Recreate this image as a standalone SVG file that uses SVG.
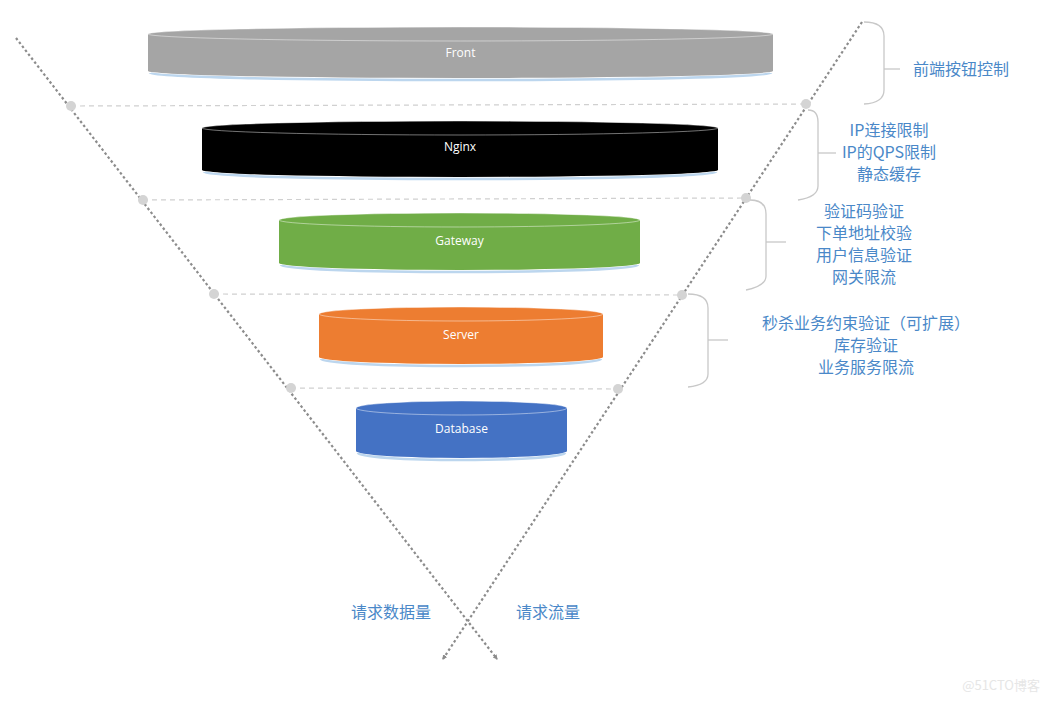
<svg xmlns="http://www.w3.org/2000/svg" width="1048" height="701" viewBox="0 0 1048 701">
<defs>
<marker id="arr" viewBox="0 0 10 10" refX="8" refY="5" markerWidth="5" markerHeight="5" orient="auto" markerUnits="userSpaceOnUse">
<path d="M0,0 L10,5 L0,10 z" fill="#8c8c8c"/>
</marker>
<style>
.diag{stroke:#8c8c8c;stroke-width:2.2;stroke-dasharray:2.5 2.5;fill:none}
.hdash{stroke:#d0d0d0;stroke-width:1.2;stroke-dasharray:5 4;fill:none}
.dot{fill:#d4d4d4}
.brace{stroke:#c8c8c8;stroke-width:1.3;fill:none}
.lbl{font-family:"Noto Sans CJK SC","Microsoft YaHei",sans-serif;font-size:16px;fill:#4a88c8;text-anchor:middle}
.ctext{font-family:"Open Sans","Liberation Sans",sans-serif;font-size:12px;fill:#ffffff;text-anchor:middle}
.top{fill:none;stroke:#ffffff;stroke-opacity:0.45;stroke-width:1}
.shadow{fill:none;stroke:#bcd6ee;stroke-width:2.5}
</style>
</defs>
<rect width="1048" height="701" fill="#ffffff"/>
<g id="guides">
<line class="hdash" x1="71" y1="106" x2="806" y2="104"/>
<line class="hdash" x1="143" y1="200" x2="746" y2="198"/>
<line class="hdash" x1="214" y1="294" x2="682" y2="295"/>
<line class="hdash" x1="291" y1="388" x2="618" y2="389"/>
</g>
<g id="front">
<path class="shadow" d="M150,73 A310.5,7 0 0 0 771,73"/>
<path d="M148,34 A312.5,7 0 0 1 773,34 V71 A312.5,7 0 0 1 148,71 Z" fill="#a5a5a5"/>
<ellipse class="top" cx="460.5" cy="34" rx="312.5" ry="7"/>
<text class="ctext" x="460.5" y="57">Front</text>
</g>
<g id="nginx">
<path class="shadow" d="M204,172 A256,7 0 0 0 716,172"/>
<path d="M202,128 A258,7 0 0 1 718,128 V170 A258,7 0 0 1 202,170 Z" fill="#000000"/>
<ellipse class="top" cx="460" cy="128" rx="258" ry="7"/>
<text class="ctext" x="460" y="151">Nginx</text>
</g>
<g id="gateway">
<path class="shadow" d="M281,265 A178.5,7 0 0 0 638,265"/>
<path d="M279,220 A180.5,7 0 0 1 640,220 V263 A180.5,7 0 0 1 279,263 Z" fill="#70ad47"/>
<ellipse class="top" cx="459.5" cy="220" rx="180.5" ry="7"/>
<text class="ctext" x="459.5" y="245">Gateway</text>
</g>
<g id="server">
<path class="shadow" d="M321,359 A140,7 0 0 0 601,359"/>
<path d="M319,314 A142,7 0 0 1 603,314 V357 A142,7 0 0 1 319,357 Z" fill="#ed7d31"/>
<ellipse class="top" cx="461" cy="314" rx="142" ry="7"/>
<text class="ctext" x="461" y="339">Server</text>
</g>
<g id="database">
<path class="shadow" d="M358,453 A103.5,7 0 0 0 565,453"/>
<path d="M356,408 A105.5,7 0 0 1 567,408 V451 A105.5,7 0 0 1 356,451 Z" fill="#4472c4"/>
<ellipse class="top" cx="461.5" cy="408" rx="105.5" ry="7"/>
<text class="ctext" x="461.5" y="433">Database</text>
</g>
<g id="connectors">
<line class="diag" x1="16" y1="38" x2="497" y2="659" marker-end="url(#arr)"/>
<line class="diag" x1="862" y1="22" x2="443" y2="659" marker-end="url(#arr)"/>
<circle class="dot" cx="71" cy="106" r="5"/>
<circle class="dot" cx="806" cy="104" r="5"/>
<circle class="dot" cx="143" cy="200" r="5"/>
<circle class="dot" cx="746" cy="198" r="5"/>
<circle class="dot" cx="214" cy="294" r="5"/>
<circle class="dot" cx="682" cy="295" r="5"/>
<circle class="dot" cx="291" cy="388" r="5"/>
<circle class="dot" cx="618" cy="389" r="5"/>
</g>
<g id="brace-front">
<path class="brace" d="M864,22 Q884,22 884,36 V90 Q884,103 864,104"/>
<line class="brace" x1="884" y1="69" x2="900" y2="69"/>
<text class="lbl" x="961" y="75">前端按钮控制</text>
</g>
<g id="brace-nginx">
<path class="brace" d="M808,110 Q818,110 818,122 V186 Q818,197 798,200"/>
<line class="brace" x1="818" y1="153" x2="836" y2="153"/>
<text class="lbl" x="889" y="136">IP连接限制</text>
<text class="lbl" x="889" y="158">IP的QPS限制</text>
<text class="lbl" x="889" y="180">静态缓存</text>
</g>
<g id="brace-gateway">
<path class="brace" d="M750,200 Q766,200 766,214 V276 Q766,286 746,290"/>
<line class="brace" x1="766" y1="242" x2="786" y2="242"/>
<text class="lbl" x="864" y="217">验证码验证</text>
<text class="lbl" x="864" y="239">下单地址校验</text>
<text class="lbl" x="864" y="261">用户信息验证</text>
<text class="lbl" x="864" y="283">网关限流</text>
</g>
<g id="brace-server">
<path class="brace" d="M688,294 Q708,294 708,308 V374 Q708,385 688,387"/>
<line class="brace" x1="708" y1="340" x2="728" y2="340"/>
<text class="lbl" x="866" y="329">秒杀业务约束验证（可扩展）</text>
<text class="lbl" x="866" y="351">库存验证</text>
<text class="lbl" x="866" y="373">业务服务限流</text>
</g>
<g id="bottom-labels">
<text class="lbl" x="391" y="618">请求数据量</text>
<text class="lbl" x="548" y="618">请求流量</text>
</g>
<text x="1040" y="690" font-family="Noto Sans CJK SC,sans-serif" font-size="13" fill="#e6e6e6" text-anchor="end">@51CTO博客</text>
</svg>
